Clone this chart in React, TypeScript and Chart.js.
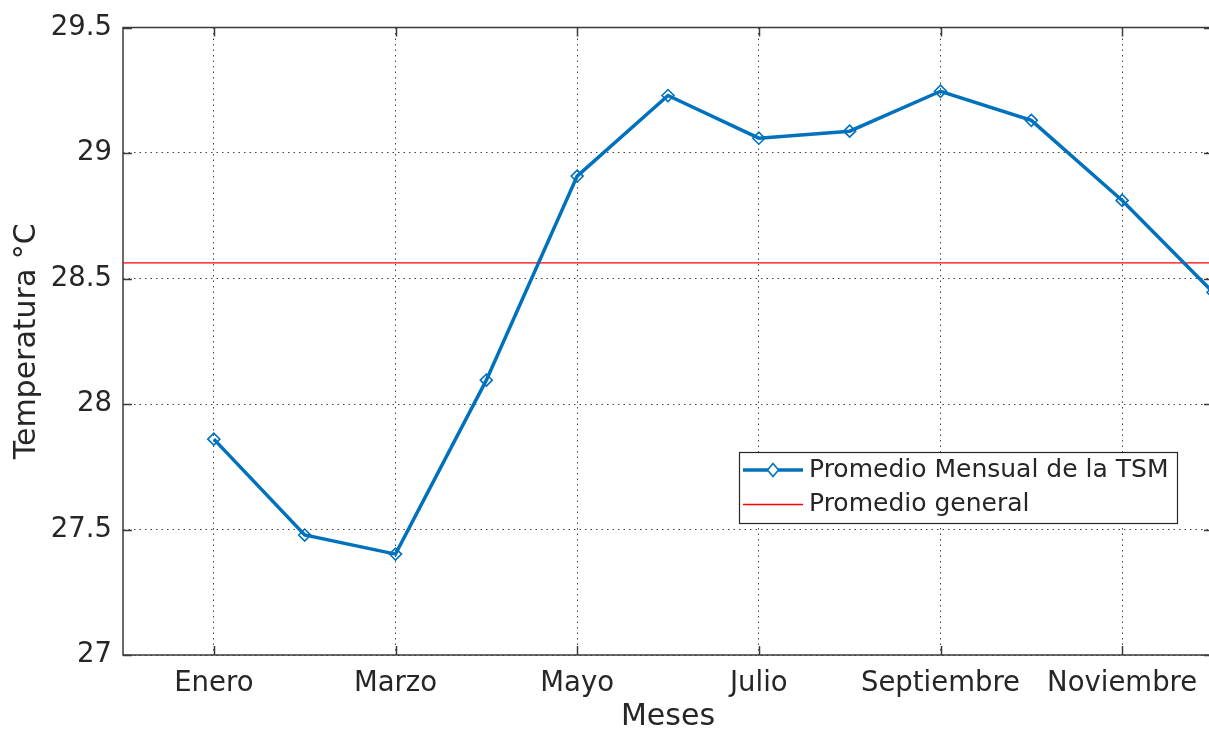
import React, { useEffect, useRef } from 'react';
import { Chart, registerables } from 'chart.js';

Chart.register(...registerables);

// ---- data ----
const MONTHS = ['Enero', 'Febrero', 'Marzo', 'Abril', 'Mayo', 'Junio', 'Julio', 'Agosto', 'Septiembre', 'Octubre', 'Noviembre', 'Diciembre'];
const MONTH_NUM = [1, 2, 3, 4, 5, 6, 7, 8, 9, 10, 11, 12];
const TSM = [27.86, 27.478, 27.402, 28.095, 28.908, 29.229, 29.059, 29.087, 29.246, 29.13, 28.811, 28.445];
const GENERAL_MEAN = 28.5625;
const X_TICKS = [1, 3, 5, 7, 9, 11];
const Y_TICKS = [27, 27.5, 28, 28.5, 29, 29.5];
const X_RANGE = [0, 12];
const Y_RANGE = [27, 29.5];
const LEGEND_LABELS = ['Promedio Mensual de la TSM', 'Promedio general'];

const BLUE = '#0072BD';
const RED = '#FF0000';
const AX = '#262626';
const FONT = "'DejaVu Sans', sans-serif";

const matlabPlugin = {
  id: 'matlabAxes',
  beforeDatasetsDraw(chart: any) {
    const { ctx, chartArea: a, scales } = chart;
    ctx.save();
    ctx.strokeStyle = '#3a3a3a';
    ctx.lineWidth = 1.5;
    ctx.setLineDash([]);
    ctx.strokeRect(a.left, a.top, a.right - a.left, a.bottom - a.top);
    const tl = 9;
    ctx.beginPath();
    for (const v of X_TICKS) {
      const x = Math.round(scales.x.getPixelForValue(v)) + 0.5;
      ctx.moveTo(x, a.bottom); ctx.lineTo(x, a.bottom - tl);
      ctx.moveTo(x, a.top); ctx.lineTo(x, a.top + tl);
    }
    for (const v of Y_TICKS) {
      const y = Math.round(scales.y.getPixelForValue(v)) + 0.5;
      ctx.moveTo(a.left, y); ctx.lineTo(a.left + tl, y);
      ctx.moveTo(a.right, y); ctx.lineTo(a.right - tl, y);
    }
    ctx.stroke();
    ctx.restore();
  },
  afterDatasetsDraw(chart: any) {
    const { ctx } = chart;
    ctx.save();
    const bx = 739.5, by = 452.5, bw = 438, bh = 71;
    ctx.fillStyle = '#ffffff';
    ctx.fillRect(bx, by, bw, bh);
    ctx.strokeStyle = AX;
    ctx.lineWidth = 1.2;
    ctx.strokeRect(bx, by, bw, bh);
    const rows = [470, 504];
    // row 1
    ctx.strokeStyle = BLUE;
    ctx.lineWidth = 3.5;
    ctx.beginPath(); ctx.moveTo(743, rows[0]); ctx.lineTo(803, rows[0]); ctx.stroke();
    ctx.lineWidth = 1.6;
    ctx.beginPath();
    const cx = 773, rx = 5.5, ry = 6.5;
    ctx.moveTo(cx, rows[0] - ry); ctx.lineTo(cx + rx, rows[0]); ctx.lineTo(cx, rows[0] + ry); ctx.lineTo(cx - rx, rows[0]); ctx.closePath();
    ctx.fillStyle = '#ffffff';
    ctx.fill();
    ctx.stroke();
    // row 2
    ctx.strokeStyle = RED;
    ctx.lineWidth = 1.3;
    ctx.beginPath(); ctx.moveTo(743, rows[1] + 0.5); ctx.lineTo(803, rows[1] + 0.5); ctx.stroke();
    ctx.fillStyle = AX;
    ctx.font = `25px ${FONT}`;
    ctx.textBaseline = 'middle';
    ctx.textAlign = 'left';
    ctx.fillText(LEGEND_LABELS[0], 809, rows[0]);
    ctx.fillText(LEGEND_LABELS[1], 809, rows[1]);
    ctx.restore();
  },
};

export default function App() {
  const ref = useRef<HTMLCanvasElement | null>(null);
  useEffect(() => {
    if (!ref.current) return;
    const chart = new Chart(ref.current, {
      type: 'line',
      data: {
        datasets: [
          {
            label: LEGEND_LABELS[0],
            data: MONTH_NUM.map((m, i) => ({ x: m, y: TSM[i] })),
            borderColor: BLUE,
            borderWidth: 3.5,
            backgroundColor: 'rgba(0,0,0,0)',
            pointStyle: 'rectRot',
            pointRadius: 6,
            pointBorderWidth: 1.6,
            pointBorderColor: BLUE,
            pointBackgroundColor: 'rgba(0,0,0,0)',
            tension: 0,
            order: 1,
          },
          {
            label: LEGEND_LABELS[1],
            data: [{ x: X_RANGE[0], y: GENERAL_MEAN }, { x: X_RANGE[1], y: GENERAL_MEAN }],
            borderColor: RED,
            borderWidth: 1.3,
            pointRadius: 0,
            tension: 0,
            order: 2,
          },
        ],
      },
      options: {
        animation: false,
        responsive: false,
        devicePixelRatio: 1,
        layout: { padding: { top: 26, right: 11, left: 0, bottom: 0 } },
        plugins: { legend: { display: false }, tooltip: { enabled: false } },
        scales: {
          x: {
            type: 'linear',
            min: X_RANGE[0],
            max: X_RANGE[1],
            afterBuildTicks: (s: any) => { s.ticks = X_TICKS.map((v) => ({ value: v })); },
            afterFit: (s: any) => { s.height = 76; s.paddingLeft = 0; s.paddingRight = 0; },
            ticks: {
              autoSkip: false,
              maxRotation: 0,
              padding: 12,
              color: AX,
              font: { family: FONT, size: 27.5 },
              callback: (v: any) => MONTHS[Number(v) - 1],
            },
            grid: { color: 'rgba(20,20,20,0.8)', lineWidth: 1, drawTicks: false },
            border: { display: false, dash: [1.5, 4] },
            title: {
              display: true,
              text: 'Meses',
              color: AX,
              font: { family: FONT, size: 30, lineHeight: 0.93 },
              padding: { top: 0, bottom: 0 },
            },
          },
          y: {
            type: 'linear',
            min: Y_RANGE[0],
            max: Y_RANGE[1],
            afterBuildTicks: (s: any) => { s.ticks = Y_TICKS.map((v) => ({ value: v })); },
            afterFit: (s: any) => { s.width = 123; },
            ticks: {
              padding: 11,
              color: AX,
              font: { family: FONT, size: 27.5 },
              callback: (v: any) => String(v),
            },
            grid: { color: 'rgba(20,20,20,0.8)', lineWidth: 1, drawTicks: false },
            border: { display: false, dash: [1.5, 4] },
            title: {
              display: true,
              text: 'Temperatura °C',
              color: AX,
              font: { family: FONT, size: 30, lineHeight: 1.2 },
              padding: { top: 9, bottom: 0 },
            },
          },
        },
      },
      plugins: [matlabPlugin],
    } as any);
    return () => chart.destroy();
  }, []);

  return (
    <div style={{ position: 'fixed', left: 0, top: 0, width: 1209, height: 731, overflow: 'hidden', background: '#ffffff' }}>
      <canvas ref={ref} width={1224} height={731} style={{ width: 1224, height: 731, display: 'block' }} />
    </div>
  );
}
